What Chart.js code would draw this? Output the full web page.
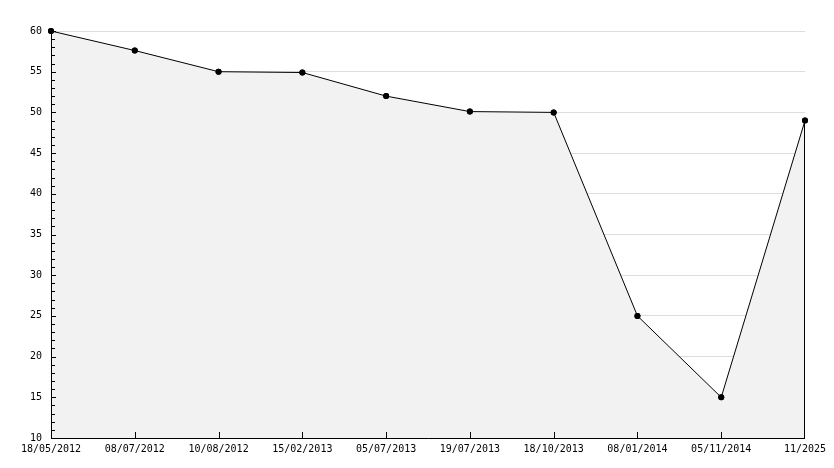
<!DOCTYPE html>
<html><head><meta charset="utf-8">
<script src="https://cdn.jsdelivr.net/npm/chart.js@4/dist/chart.umd.min.js"></script>
<style>html,body{margin:0;padding:0;background:#fff}#wrap{width:834px;height:468px}</style>
</head><body><div id="wrap"><canvas id="c" width="834" height="468"></canvas></div>
<script>
const categories = ["18/05/2012","08/07/2012","10/08/2012","15/02/2013","05/07/2013","19/07/2013","18/10/2013","08/01/2014","05/11/2014","11/2025"];
const values = [60, 57.6, 55, 54.9, 52, 50.1, 50, 25, 15, 49];
const yMin = 10, yMax = 60, yMajor = 5;

const FONT = {family: "'DejaVu Sans Mono', monospace", size: 10};

const tickPlugin = {
  id: 'innerTicks',
  afterDatasetsDraw(chart) {
    const ctx = chart.ctx, y = chart.scales.y, x = chart.scales.x, a = chart.chartArea;
    ctx.save();
    ctx.strokeStyle = '#000'; ctx.lineWidth = 1;
    ctx.beginPath();
    for (let v = yMin; v <= yMax; v++) {
      const py = Math.round(y.getPixelForValue(v)) + 0.5;
      const len = (v % yMajor === 0) ? 5 : 4;
      ctx.moveTo(a.left, py); ctx.lineTo(a.left + len, py);
    }
    for (let i = 1; i < categories.length - 1; i++) {
      const px = Math.round(x.getPixelForValue(i)) + 0.5;
      ctx.moveTo(px, a.bottom); ctx.lineTo(px, a.bottom - 6);
    }
    const meta = chart.getDatasetMeta(0);
    const last = meta.data[meta.data.length - 1];
    const lx = Math.round(last.x) - 0.5;
    ctx.moveTo(lx, last.y); ctx.lineTo(lx, a.bottom);
    ctx.stroke();
    ctx.beginPath();
    const ax = Math.round(a.left) + 0.5, ay = Math.round(a.bottom) + 0.5;
    ctx.moveTo(ax, a.top); ctx.lineTo(ax, ay); ctx.lineTo(a.right, ay);
    ctx.stroke();
    // redraw points on top so they are not hidden by axes
    ctx.fillStyle = '#000';
    meta.data.forEach(p => { ctx.beginPath(); ctx.arc(p.x, p.y, 3, 0, Math.PI * 2); ctx.fill(); });
    ctx.restore();
  }
};

new Chart(document.getElementById('c'), {
  type: 'line',
  data: {
    labels: categories,
    datasets: [{
      data: values,
      borderColor: '#000',
      borderWidth: 1,
      backgroundColor: '#f2f2f2',
      fill: 'start',
      tension: 0,
      clip: false,
      pointRadius: 3,
      pointHoverRadius: 3,
      pointBackgroundColor: '#000',
      pointBorderColor: '#000',
      pointBorderWidth: 0
    }]
  },
  options: {
    responsive: false,
    animation: false,
    events: [],
    layout: {padding: {top: 31, right: 29, left: 0, bottom: 0}},
    plugins: {legend: {display: false}, tooltip: {enabled: false}},
    scales: {
      x: {
        offset: false,
        grid: {display: false, drawTicks: false},
        border: {display: false},
        ticks: {color: '#000', font: FONT, padding: 5, maxRotation: 0, autoSkip: false},
        afterFit(s) { s.height = 30; }
      },
      y: {
        min: yMin, max: yMax,
        grid: {
          color: ctx => (ctx.tick && ctx.tick.value % yMajor === 0) ? '#dddddd' : 'rgba(0,0,0,0)',
          drawTicks: false, lineWidth: 1
        },
        border: {display: false},
        ticks: {
          stepSize: 1, autoSkip: false, color: '#000', font: FONT, padding: 9,
          callback: v => (v % yMajor === 0 ? String(v) : '')
        },
        afterFit(s) { s.width = 51; }
      }
    }
  },
  plugins: [tickPlugin]
});
</script>
</body></html>
